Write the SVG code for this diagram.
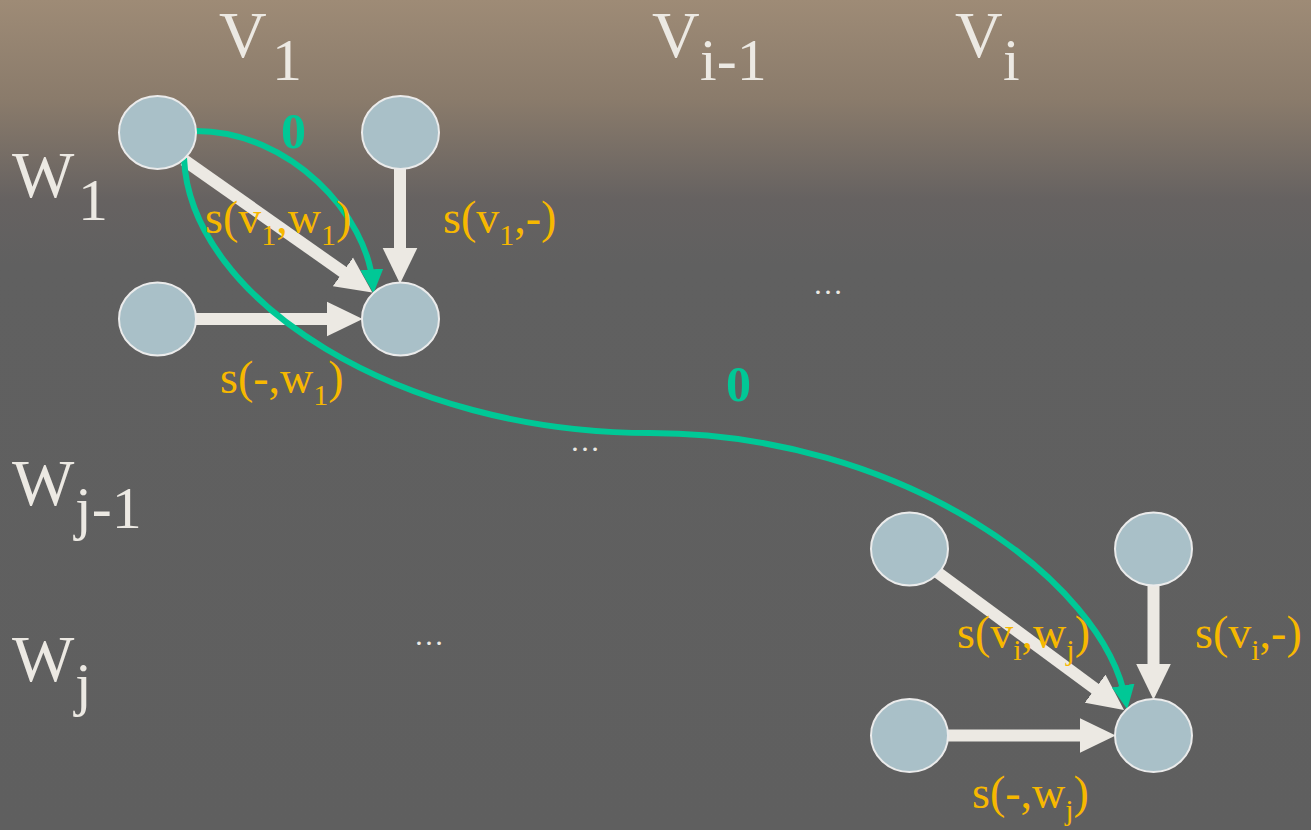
<svg xmlns="http://www.w3.org/2000/svg" width="1311" height="830" viewBox="0 0 1311 830">
<defs>
<linearGradient id="bg" x1="0" y1="0" x2="0" y2="830" gradientUnits="userSpaceOnUse">
<stop offset="0" stop-color="#9e8b76"/>
<stop offset="0.12" stop-color="#8a7b6b"/>
<stop offset="0.24" stop-color="#666261"/>
<stop offset="0.32" stop-color="#606060"/>
<stop offset="1" stop-color="#5f5f5f"/>
</linearGradient>
<marker id="wh" markerUnits="userSpaceOnUse" markerWidth="36" markerHeight="36" viewBox="0 0 35 34" refX="12" refY="17" orient="auto">
<path d="M0,0 L35,17 L0,34 z" fill="#ece9e3"/>
</marker>
<marker id="gr" markerUnits="userSpaceOnUse" markerWidth="24" markerHeight="23" viewBox="0 0 23 22" refX="16" refY="11" orient="auto">
<path d="M0,0 L23,11 L0,22 z" fill="#00c896"/>
</marker>
<style>
.node{fill:#a9c0c8;stroke:#ebebeb;stroke-width:2}
.wa{stroke:#ece9e3;stroke-width:12;fill:none;marker-end:url(#wh)}
.ga{stroke:#00c896;stroke-width:6;fill:none;marker-end:url(#gr)}
.hd{font-family:"Liberation Serif",serif;fill:#ece9e3;font-size:66px}
.sb{font-size:60px}
.lb{font-family:"Liberation Serif",serif;fill:#f7b800;font-size:46px}
.ls{font-size:30px}
.zero{font-family:"Liberation Serif",serif;fill:#00c896;font-size:50px;font-weight:bold}
.dots{font-family:"Liberation Serif",serif;fill:#ece9e3;font-size:30px}
</style>
</defs>
<rect x="0" y="0" width="1311" height="830" fill="url(#bg)"/>

<g id="headers">
<text class="hd" x="219" y="57">V<tspan class="sb" x="272" y="80">1</tspan></text>
<text class="hd" x="652" y="57">V<tspan class="sb" x="700" y="80">i-1</tspan></text>
<text class="hd" x="955" y="57">V<tspan class="sb" x="1003" y="80">i</tspan></text>
<text class="hd" x="12" y="197">W<tspan class="sb" x="78" y="220">1</tspan></text>
<text class="hd" x="12" y="505">W<tspan class="sb" x="75" y="528">j-1</tspan></text>
<text class="hd" x="12" y="681">W<tspan class="sb" x="75" y="704">j</tspan></text>
</g>

<g id="connectors">
<line class="wa" x1="184" y1="160" x2="353" y2="279"/>
<line class="wa" x1="400" y1="169" x2="400" y2="260"/>
<line class="wa" x1="196" y1="319" x2="339" y2="319"/>
<line class="wa" x1="937" y1="572" x2="1105" y2="696"/>
<line class="wa" x1="1153.5" y1="585" x2="1153.5" y2="676"/>
<line class="wa" x1="948" y1="735.5" x2="1092" y2="735.5"/>
<path class="ga" d="M196,131 C290,131 368,215 373,286"/>
<path class="ga" d="M184,158 C190,300 400,433 650,433 C900,433 1105,580 1126,702"/>
</g>

<g id="n11"><ellipse class="node" cx="157.5" cy="132.5" rx="38.5" ry="36.5"/></g>
<g id="n12"><ellipse class="node" cx="400.5" cy="132.5" rx="38.5" ry="36.5"/></g>
<g id="n21"><ellipse class="node" cx="157.5" cy="319" rx="38.5" ry="36.5"/></g>
<g id="n22"><ellipse class="node" cx="400.5" cy="319" rx="38.5" ry="36.5"/></g>
<g id="n31"><ellipse class="node" cx="909.5" cy="549" rx="38.5" ry="36.5"/></g>
<g id="n32"><ellipse class="node" cx="1153.5" cy="549" rx="38.5" ry="36.5"/></g>
<g id="n41"><ellipse class="node" cx="909.5" cy="735.5" rx="38.5" ry="36.5"/></g>
<g id="n42"><ellipse class="node" cx="1153.5" cy="735.5" rx="38.5" ry="36.5"/></g>

<g id="labels">
<text class="lb" x="205" y="233">s(v<tspan class="ls" dy="12">1</tspan><tspan dy="-12">,w</tspan><tspan class="ls" dy="12">1</tspan><tspan dy="-12">)</tspan></text>
<text class="lb" x="443" y="233">s(v<tspan class="ls" dy="12">1</tspan><tspan dy="-12">,-)</tspan></text>
<text class="lb" x="220" y="393">s(-,w<tspan class="ls" dy="12">1</tspan><tspan dy="-12">)</tspan></text>
<text class="lb" x="957" y="648">s(v<tspan class="ls" dy="12">i</tspan><tspan dy="-12">,w</tspan><tspan class="ls" dy="12">j</tspan><tspan dy="-12">)</tspan></text>
<text class="lb" x="1195" y="648">s(v<tspan class="ls" dy="12">i</tspan><tspan dy="-12">,-)</tspan></text>
<text class="lb" x="972" y="808">s(-,w<tspan class="ls" dy="12">j</tspan><tspan dy="-12">)</tspan></text>
<text class="zero" x="281" y="148">0</text>
<text class="zero" x="726" y="401">0</text>
<text class="dots" x="813" y="294">…</text>
<text class="dots" x="570" y="451">…</text>
<text class="dots" x="414" y="645">…</text>
</g>
</svg>
